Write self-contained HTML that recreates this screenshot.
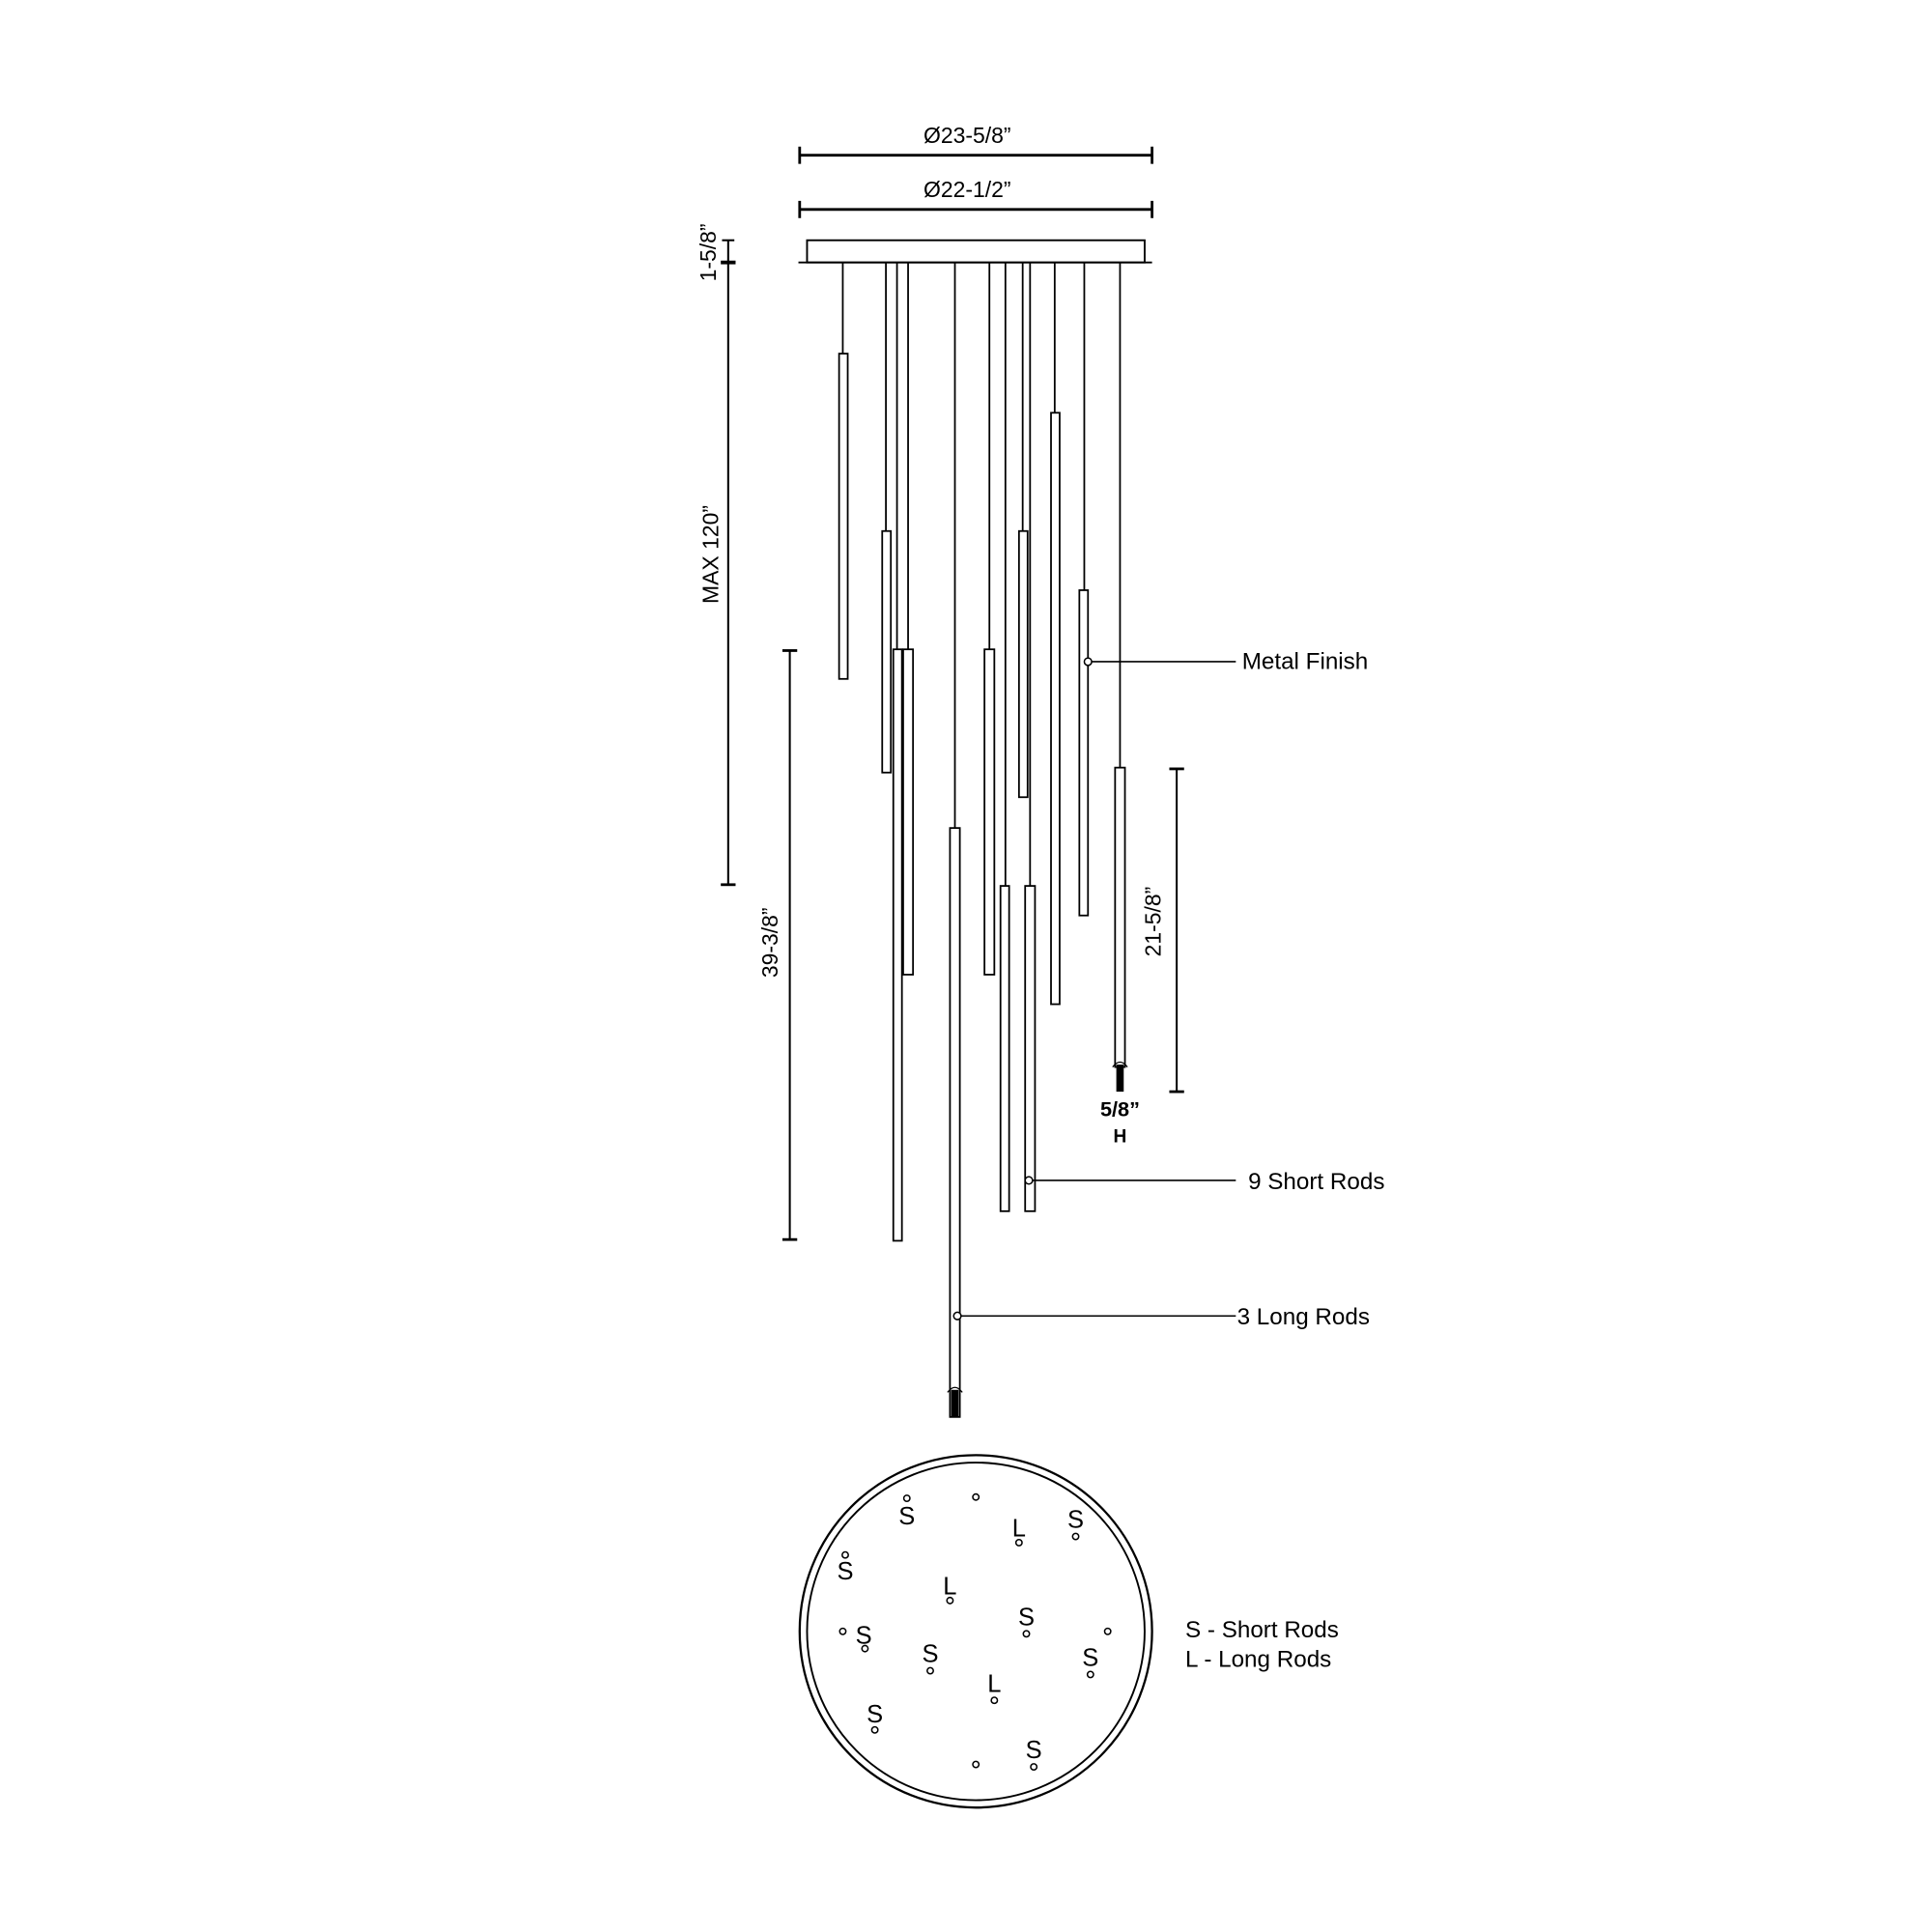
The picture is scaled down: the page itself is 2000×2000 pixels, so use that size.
<!DOCTYPE html>
<html><head><meta charset="utf-8"><style>html,body{margin:0;padding:0;background:#fff}svg{display:block}</style></head><body>
<svg width="2000" height="2000" viewBox="0 0 1568 1568" xmlns="http://www.w3.org/2000/svg" font-family="Liberation Sans, Arial, sans-serif" fill="none" stroke="#000">
<g stroke-width="2.2">
<line x1="648" y1="126" x2="935" y2="126"/><line x1="649" y1="119" x2="649" y2="133"/><line x1="935" y1="119" x2="935" y2="133"/>
<line x1="648" y1="170" x2="935" y2="170"/><line x1="649" y1="163" x2="649" y2="177"/><line x1="935" y1="163" x2="935" y2="177"/>
</g>
<g fill="#000" stroke="none" font-size="18" text-anchor="middle">
<text x="785" y="116">Ø23-5/8”</text>
<text x="785" y="160">Ø22-1/2”</text>
</g>
<rect x="655" y="195" width="274" height="18" stroke-width="1.5"/>
<line x1="648" y1="213" x2="935" y2="213" stroke-width="1.5"/>
<g stroke-width="1.6">
<line x1="591" y1="195" x2="591" y2="213"/><line x1="586" y1="195" x2="596" y2="195"/>
<line x1="585" y1="213" x2="597" y2="213" stroke-width="3"/>
<line x1="591" y1="213" x2="591" y2="718"/><line x1="585" y1="718" x2="597" y2="718" stroke-width="2.2"/>
<line x1="641" y1="528" x2="641" y2="1006"/><line x1="635" y1="528" x2="647" y2="528" stroke-width="2.2"/><line x1="635" y1="1006" x2="647" y2="1006" stroke-width="2.2"/>
<line x1="955" y1="624" x2="955" y2="886"/><line x1="949" y1="624" x2="961" y2="624" stroke-width="2.2"/><line x1="949" y1="886" x2="961" y2="886" stroke-width="2.2"/>
</g>
<g fill="#000" stroke="none" font-size="18" text-anchor="middle">
<text transform="translate(581,205) rotate(-90)">1-5/8”</text>
<text transform="translate(583,450) rotate(-90)">MAX 120”</text>
<text transform="translate(631,765) rotate(-90)">39-3/8”</text>
<text transform="translate(942,748) rotate(-90)">21-5/8”</text>
</g>
<g stroke-width="1.4">
<line x1="684" y1="213" x2="684" y2="287"/>
<line x1="719" y1="213" x2="719" y2="431"/>
<line x1="728" y1="213" x2="728" y2="527"/>
<line x1="737" y1="213" x2="737" y2="527"/>
<line x1="775" y1="213" x2="775" y2="672"/>
<line x1="803" y1="213" x2="803" y2="527"/>
<line x1="816" y1="213" x2="816" y2="719"/>
<line x1="830" y1="213" x2="830" y2="431"/>
<line x1="836" y1="213" x2="836" y2="719"/>
<line x1="856" y1="213" x2="856" y2="335"/>
<line x1="880" y1="213" x2="880" y2="479"/>
<line x1="909" y1="213" x2="909" y2="623"/>
</g>
<g stroke-width="1.4" fill="#fff">
<rect x="681" y="287" width="7" height="264"/>
<rect x="716" y="431" width="7" height="196"/>
<rect x="733" y="527" width="8" height="264"/>
<rect x="725" y="527" width="7" height="480"/>
<rect x="771" y="672" width="8" height="478"/>
<rect x="799" y="527" width="8" height="264"/>
<rect x="812" y="719" width="7" height="264"/>
<rect x="827" y="431" width="7" height="216"/>
<rect x="832" y="719" width="8" height="264"/>
<rect x="853" y="335" width="7" height="480"/>
<rect x="876" y="479" width="7" height="264"/>
<rect x="905" y="623" width="8" height="243"/>
</g>
<rect x="906" y="864" width="6" height="22" fill="#000" stroke="none"/>
<rect x="772" y="1128" width="6" height="22" fill="#000" stroke="none"/>
<path d="M903 866 Q909 858 915 866 M769 1130 Q775 1122 781 1130" stroke-width="1"/>
<g fill="#000" stroke="none" font-size="17" font-weight="bold" text-anchor="middle">
<text x="909" y="906">5/8”</text>
<text x="909" y="927" font-size="15">H</text>
</g>
<g stroke-width="1.2">
<line x1="886" y1="537" x2="1003" y2="537"/><circle cx="883" cy="537" r="3" fill="#fff"/>
<line x1="838" y1="958" x2="1003" y2="958"/><circle cx="835" cy="958" r="3" fill="#fff"/>
<line x1="780" y1="1068" x2="1003" y2="1068"/><circle cx="777" cy="1068" r="3" fill="#fff"/>
</g>
<g fill="#000" stroke="none" font-size="19">
<text x="1008" y="543">Metal Finish</text>
<text x="1013" y="965">9 Short Rods</text>
<text x="1004" y="1075">3 Long Rods</text>
<text x="962" y="1329">S - Short Rods</text>
<text x="962" y="1353">L - Long Rods</text>
</g>
<circle cx="792" cy="1324" r="143" stroke-width="1.8"/>
<circle cx="792" cy="1324" r="137" stroke-width="1.5"/>
<g stroke-width="1.2" fill="#fff">
<circle cx="736" cy="1216" r="2.5"/><circle cx="792" cy="1215" r="2.5"/><circle cx="827" cy="1252" r="2.5"/>
<circle cx="873" cy="1247" r="2.5"/><circle cx="686" cy="1262" r="2.5"/><circle cx="771" cy="1299" r="2.5"/>
<circle cx="833" cy="1326" r="2.5"/><circle cx="684" cy="1324" r="2.5"/><circle cx="702" cy="1338" r="2.5"/>
<circle cx="755" cy="1356" r="2.5"/><circle cx="899" cy="1324" r="2.5"/><circle cx="885" cy="1359" r="2.5"/>
<circle cx="807" cy="1380" r="2.5"/><circle cx="710" cy="1404" r="2.5"/><circle cx="839" cy="1434" r="2.5"/>
<circle cx="792" cy="1432" r="2.5"/>
</g>
<g fill="#000" stroke="none" font-size="20" text-anchor="middle">
<text x="736" y="1237">S</text><text x="827" y="1247">L</text><text x="873" y="1240">S</text>
<text x="686" y="1282">S</text><text x="771" y="1294">L</text><text x="833" y="1319">S</text>
<text x="701" y="1334">S</text><text x="755" y="1349">S</text><text x="885" y="1352">S</text>
<text x="807" y="1373">L</text><text x="710" y="1398">S</text><text x="839" y="1427">S</text>
</g>
</svg>
</body></html>
